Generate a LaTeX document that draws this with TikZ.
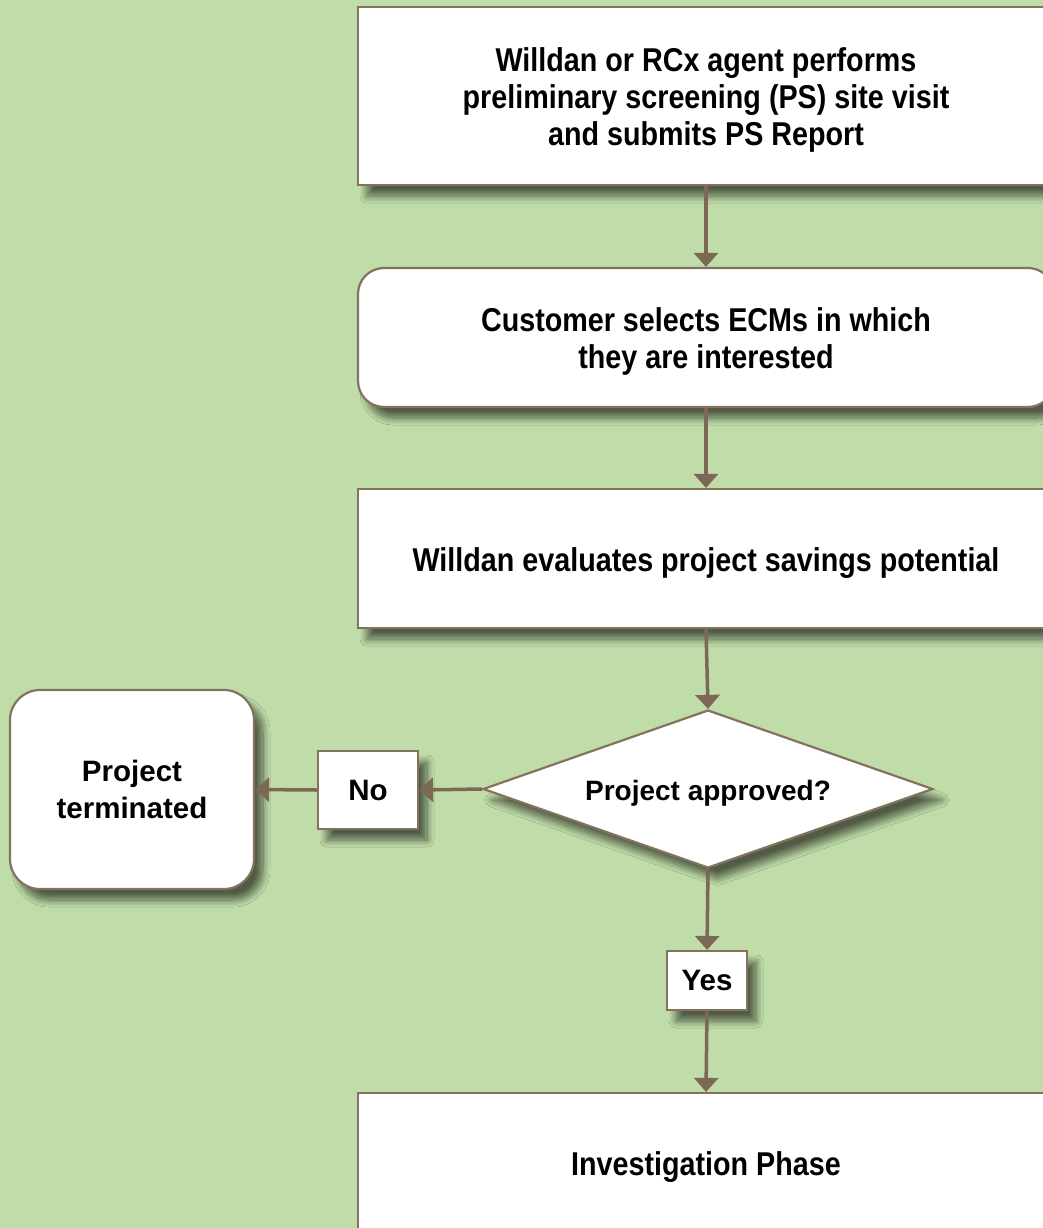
\documentclass[tikz,border=0pt]{standalone}
\usepackage{fontspec}
\setmainfont{Liberation Sans}
\newfontfamily\condfont{Liberation Sans}[FakeStretch=0.87]
\usetikzlibrary{shapes.geometric,arrows.meta,shadows.blur}
\definecolor{bg}{RGB}{192,220,168}
\definecolor{edge}{RGB}{132,114,94}
\definecolor{arr}{RGB}{124,104,84}
\newcommand\boxlines[1]{\begin{tabular}{@{}c@{}}\rule{0pt}{37pt}#1\end{tabular}}
\begin{document}
\begin{tikzpicture}[x=1pt,y=-1pt,
  shade/.style={blur shadow={shadow xshift=9pt,shadow yshift=-11pt,shadow blur radius=7pt,shadow opacity=58,shadow blur steps=10}},
  procbox/.style={draw=edge,line width=2.2pt,fill=white,shade,minimum width=696pt,align=center,inner sep=0pt,
     font=\condfont\bfseries\fontsize{33}{37}\selectfont},
  labelbox/.style={draw=edge,line width=2.2pt,fill=white,shade,inner sep=0pt,align=center,
     font=\bfseries\fontsize{29.5}{37}\selectfont},
  flow/.style={draw=arr,line width=3.5pt,-{Triangle[width=24pt,length=14pt]}},
]
\useasboundingbox (0,0) rectangle (1043,1228);
\fill[bg] (0,0) rectangle (1043,1228);
\begin{scope}
\clip (0,0) rectangle (1043,1228);
\node[procbox,minimum height=178pt] (ps) at (706,96) {\boxlines{Willdan or RCx agent performs\\preliminary screening (PS) site visit\\and submits PS Report}};
\node[procbox,minimum height=139pt,rounded corners=26pt] (ecm) at (706,337.5) {\boxlines{Customer selects ECMs in which\\they are interested}};
\node[procbox,minimum height=139pt] (eval) at (706,558.5) {\rule{0pt}{32pt}Willdan evaluates project savings potential};
\node[diamond,aspect=2.848,draw=edge,line width=2.2pt,fill=white,shade,minimum width=450pt,minimum height=158pt,inner sep=0pt,
   font=\bfseries\fontsize{28}{37}\selectfont] (dec) at (708,789) {\rule{0pt}{28pt}Project approved?};
\node[labelbox,minimum width=100pt,minimum height=78pt] (no) at (368,790) {No};
\node[labelbox,minimum width=244pt,minimum height=199pt,rounded corners=30pt] (term) at (132,789.5) {Project\\terminated};
\node[labelbox,minimum width=80pt,minimum height=59pt] (yes) at (707,980.5) {Yes};
\node[procbox,minimum height=139pt] (inv) at (706,1162.5) {\rule{0pt}{32pt}Investigation Phase};
\draw[flow] (ps.south) -- (ecm.north);
\draw[flow] (ecm.south) -- (eval.north);
\draw[flow] (eval.south) -- (dec.north);
\draw[flow] (dec.west) -- (no.east);
\draw[flow] (no.west) -- (term.east);
\draw[flow] (dec.south) -- (yes.north);
\draw[flow] (yes.south) -- (inv.north);
\end{scope}
\end{tikzpicture}
\end{document}
